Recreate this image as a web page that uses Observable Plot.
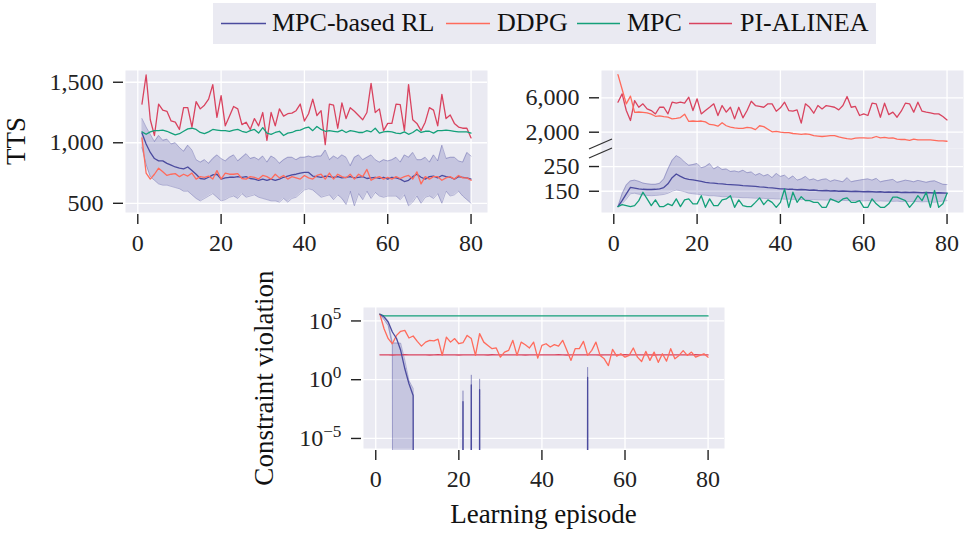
<!DOCTYPE html>
<html><head><meta charset="utf-8">
<script src="https://cdn.jsdelivr.net/npm/d3@7"></script>
<script src="https://cdn.jsdelivr.net/npm/@observablehq/plot@0.6"></script>
<style>
html,body{margin:0;padding:0;background:#fff;}
#root{position:relative;width:968px;height:535px;overflow:hidden;font-family:"Liberation Serif","Times New Roman",serif;}
.pane{position:absolute;}
.pane svg{overflow:visible;display:block;}
.pane [aria-label$="tick"] path, .pane .tick line{stroke-width:1.4px;}
#overlay{position:absolute;left:0;top:0;pointer-events:none;}
</style></head><body><div id="root"></div>
<script>
// ---------------- data ----------------
const episodes = d3.range(1, 81);
const xTicks = [0, 20, 40, 60, 80];
const seriesNames = ["MPC-based RL", "DDPG", "MPC", "PI-ALINEA"];

// Panel 1: TTS
const ttsTicks = [500, 1000, 1500];
const ttsRlMean = [1080,990,920,870,850,850,830,815,800,790, 785,800,770,740,705,700,715,735,740,700, 710,715,715,720,715,720,705,700,690,700, 690,700,690,700,715,725,735,740,750,755, 755,725,720,715,725,720,715,720,710,715, 720,710,715,720,705,710,715,705,715,700, 715,710,700,680,690,720,740,715,700,720, 725,710,730,720,715,700,720,715,710,700];
const ttsRlHigh = [1200,1130,1070,1010,1060,1020,1030,990,1000,960, 930,980,940,860,840,860,830,870,900,870, 850,880,900,850,880,910,870,880,860,890, 840,890,870,830,860,880,880,860,880,880, 890,880,890,890,940,860,890,870,900,880, 810,880,900,860,880,900,860,840,860,850, 860,880,840,900,880,920,860,860,880,840, 900,850,980,870,880,880,850,840,920,890];
const ttsRlLow = [960,820,720,690,660,650,650,640,630,620, 600,600,570,540,520,540,560,580,550,520, 530,550,560,540,580,550,560,570,550,540, 530,520,520,510,540,510,540,550,580,610, 620,610,580,550,560,570,530,570,540,490, 600,480,580,530,600,540,590,560,550,560, 560,560,530,570,480,510,560,500,550,560, 540,580,500,600,560,570,600,560,530,500];
const ttsDdpg = [1040,750,700,740,790,760,730,740,745,720, 740,725,750,700,720,715,725,700,770,700, 750,740,740,745,705,700,720,715,700,730, 720,700,740,710,730,700,720,710,700,730, 710,700,730,740,700,750,700,740,720,710, 740,700,740,720,780,690,710,720,700,715, 700,720,705,720,730,700,760,660,720,700, 720,720,690,710,720,700,730,710,710,690];
const ttsMpc = [1090,1070,1090,1100,1100,1105,1095,1080,1065,1075, 1095,1115,1120,1110,1085,1075,1090,1110,1105,1100, 1100,1095,1105,1110,1095,1085,1100,1110,1080,1125, 1080,1070,1085,1095,1060,1080,1085,1100,1105,1120, 1130,1100,1135,1110,1095,1100,1095,1090,1105,1085, 1100,1095,1085,1085,1100,1090,1120,1080,1090,1095, 1090,1080,1075,1090,1070,1085,1110,1085,1095,1095, 1080,1100,1100,1105,1100,1095,1090,1090,1090,1080];
const ttsPi = [1320,1560,1190,1060,1320,1270,1260,1180,1170,1110, 1290,1290,1130,1340,1280,1310,1360,1480,1210,1390, 1140,1220,1300,1280,1150,1170,1110,1200,1140,1250, 1020,1250,1140,1280,1220,1240,1245,1265,1320,1180, 1240,1360,1225,1265,985,1320,1310,1120,1330,1200, 1290,1260,1225,1190,1250,1490,1250,1280,1100,1160, 1160,1320,1315,1100,1480,1190,1160,1100,1170,1290, 1270,1140,1400,1200,1230,1160,1130,1120,1120,1040];

// Panel 2: TTS with broken axis (upper: DDPG, PI-ALINEA; lower: MPC-based RL, MPC)
const tts2UpperTicks = [2000, 6000];
const tts2LowerTicks = [150, 250];
const tts2Ddpg = [8700,7000,5300,6200,4300,4350,4300,4250,4100,3850, 3900,3800,3750,3550,3600,3700,4100,3250,3300,3250, 3300,3200,2900,2850,2700,3100,2750,2600,2500,2450, 2450,2550,2500,2300,2750,2650,2350,2050,2100,2000, 1950,1950,1850,1800,1750,1800,1750,1600,1550,1500, 1550,1600,1600,1450,1350,1250,1200,1300,1350,1350, 1300,1350,1500,1350,1400,1300,1350,1200,1150,1150, 1050,1200,1100,1100,1100,1100,1050,1000,1000,950];
const tts2Pi = [5490,6460,4520,3360,5680,4900,5300,4710,4520,4130, 4900,4900,4130,5490,5370,5490,5370,6070,4520,5880, 4130,4520,4900,5300,3940,5100,4330,4900,3550,4900, 3670,4520,5600,5100,5000,4900,5300,5300,4440,4830, 5490,4520,4440,4600,3050,5300,4900,4210,5100,4710, 5100,5000,4900,4600,5100,6150,4900,5000,3940,4130, 3940,5370,5300,3740,5370,4050,4330,3740,4440,5370, 5300,4330,5490,4440,4330,4250,4130,4130,3820,3430];
const tts2Mpc = [88,96,92,88,92,112,146,119,92,115, 88,88,99,92,119,88,115,119,99,99, 132,85,119,92,92,115,119,132,85,115, 92,88,88,105,123,96,115,105,85,105, 159,85,146,105,128,112,112,105,105,85, 85,119,112,105,119,123,105,105,112,85, 85,119,99,85,85,99,126,126,119,112, 85,105,132,112,146,85,153,85,99,142];
const tts2RlMean = [88,112,139,166,163,160,158,157,157,158, 160,165,180,205,220,210,202,198,196,193, 190,186,184,183,181,180,178,177,176,175, 173,172,171,170,168,167,165,164,162,160, 160,158,158,156,157,156,154,155,153,152, 153,151,152,150,151,150,149,150,149,148, 149,148,147,148,146,147,146,147,145,146, 145,146,145,144,145,144,143,144,143,142];
const tts2RlHigh = [88,140,175,192,195,190,183,180,178,178, 182,200,240,275,294,285,268,255,258,262, 245,250,262,240,250,238,240,230,232,228, 235,225,228,215,222,212,218,205,222,210, 215,200,212,195,200,210,196,200,192,198, 200,190,196,192,188,205,188,192,195,198, 200,195,202,188,192,195,198,186,190,195, 192,188,194,190,186,190,192,185,178,177];
const tts2RlLow = [88,100,118,140,142,138,135,133,132,133, 135,137,142,150,155,152,148,142,140,138, 136,134,132,132,130,128,128,126,126,125, 124,124,123,122,122,121,120,120,119,119, 118,118,117,118,116,117,115,116,115,115, 114,115,113,114,113,112,113,112,112,111, 112,111,110,111,110,110,109,110,108,109, 108,109,108,107,108,107,106,108,110,112];

// Panel 3: constraint violation (log scale)
const cvTicks = [1e-5, 1, 1e5];
const cvMpc = [370000,275000,270000,268000,272000,270000,268000,270000,271000,269000, 270000,268000,272000,270000,266000,270000,272000,269000,270000,268000, 270000,271000,269000,270000,268000,272000,270000,266000,270000,271000, 269000,270000,268000,270000,272000,270000,267000,270000,271000,269000, 270000,268000,270000,272000,269000,270000,266000,270000,271000,269000, 270000,268000,271000,270000,269000,270000,272000,268000,270000,269000, 270000,271000,268000,270000,269000,270000,272000,270000,268000,270000, 269000,270000,271000,268000,270000,269000,270000,271000,270000,270000];
const cvPi = [132,128,130,127,131,129,133,128,130,132, 129,131,127,130,134,128,130,131,129,127, 130,132,128,131,129,130,127,133,129,131, 130,128,132,129,131,127,130,132,128,130, 131,129,128,133,130,127,131,129,132,130, 128,131,130,127,132,129,131,128,130,133, 129,130,132,128,131,129,127,131,130,128, 132,129,130,131,128,130,133,129,131,128];
const cvDdpg = [370000,21900,3090,1150,5890,13200,15800,3550,5250,1820, 724,1580,2240,2000,2820,117,4270,1580,3160,1150, 1410,5890,3160,117,8320,1580,832,437,501,83, 224,316,2240,117,1580,955,501,1580,69,832, 1150,603,955,724,2240,316,44,437,437,1820, 117,316,1580,117,60,16,380,102,162,83, 117,501,83,35,257,44,224,30,162,38, 437,60,117,300,117,224,83,117,162,83];
const cvRlMean = [371000,220000,80000,11500,3200,316,8.5,0.45,0.045,0, 0,0,0,0,0,0,0,0,0,0, 0.0135,0,0.36,0,0.145,0,0,0,0,0, 0,0,0,0,0,0,0,0,0,0, 0,0,0,0,0,0,0,0,0,0, 1.55,0,0,0,0,0,0,0,0,0, 0,0,0,0,0,0,0,0,0,0, 0,0,0,0,0,0,0,0,0,0];
const cvRlHigh = [371000,250000,100000,1320,1320,1260,44,0.85,0.18,0, 0,0,0,0,0,0,0,0,0,0, 0.117,0,2.57,0,1.17,0,0,0,0,0, 0,0,0,0,0,0,0,0,0,0, 0,0,0,0,0,0,0,0,0,0, 11.7,0,0,0,0,0,0,0,0,0, 0,0,0,0,0,0,0,0,0,0, 0,0,0,0,0,0,0,0,0,0];
const cvRlLow = [371000,126000,40000,800,0,0,0,0,0,0, 0,0,0,0,0,0,0,0,0,0, 0,0,0,0,0,0,0,0,0,0, 0,0,0,0,0,0,0,0,0,0, 0,0,0,0,0,0,0,0,0,0, 0,0,0,0,0,0,0,0,0,0, 0,0,0,0,0,0,0,0,0,0, 0,0,0,0,0,0,0,0,0,0];

// ---------------- style ----------------
const COLORS = {rl: "#4b4b9e", ddpg: "#ff6b5c", mpc: "#14a07a", pi: "#d9435f"};
const BG = "#eaeaf2";
const FONT = '"Liberation Serif","Times New Roman",serif';
const X_DOMAIN = [-2.95, 83.95];
const LW = 1.3;

const root = document.getElementById("root");
const series = (vals) => vals.map((v, i) => ({ep: episodes[i], v}));
const band = (lo, mid, hi) => episodes.map((ep, i) => ({ep, lo: lo[i], v: mid[i], hi: hi[i]}));
const logFloor = (v) => (v > 0 ? v : 1e-300); // nonpositive values clipped like matplotlib

function mount(svg, left, top, w, h) {
  const d = document.createElement("div");
  d.className = "pane";
  Object.assign(d.style, {left: left + "px", top: top + "px", width: w + "px", height: h + "px"});
  d.appendChild(svg);
  root.appendChild(d);
}
const common = (o) => Object.assign({
  width: 490,
  style: {background: "transparent", fontFamily: FONT, fontSize: "24px", color: "#222", overflow: "visible"}
}, o);
const xOpt = (visible) => ({domain: X_DOMAIN, insetLeft: 2, ticks: xTicks, tickSize: 10, tickPadding: 9, label: null, axis: visible ? "bottom" : null});
const bgMarks = (yTicks, insetBottom) => [
  Plot.frame({fill: BG, stroke: "none", insetLeft: 2, insetBottom}),
  Plot.ruleX(xTicks, {stroke: "white", strokeWidth: 1.3}),
  Plot.ruleY(yTicks, {stroke: "white", strokeWidth: 1.3})
];
const bandMarks = (rows, yf, clip) => [
  Plot.areaY(rows, {x: "ep", y1: (d) => yf(d.lo), y2: (d) => yf(d.hi), fill: COLORS.rl, fillOpacity: 0.22, clip}),
  Plot.line(rows, {x: "ep", y: (d) => yf(d.hi), stroke: COLORS.rl, strokeOpacity: 0.35, strokeWidth: 1, clip}),
  Plot.line(rows, {x: "ep", y: (d) => yf(d.lo), stroke: COLORS.rl, strokeOpacity: 0.35, strokeWidth: 1, clip})
];
const ln = (rows, color, yf, clip) => Plot.line(rows, {x: "ep", y: yf ? (d) => yf(d.v) : "v", stroke: color, strokeWidth: LW, clip});
const id = (v) => v;

// ---------------- panel 1 ----------------
const rl1 = band(ttsRlLow, ttsRlMean, ttsRlHigh);
mount(Plot.plot(common({
  height: 200, marginLeft: 123, marginRight: 3, marginTop: 10, marginBottom: 46,
  x: xOpt(true),
  y: {domain: [424, 1597], insetBottom: 2, ticks: ttsTicks, tickFormat: d3.format(","), tickSize: 10, tickPadding: 10, label: null},
  marks: [
    ...bgMarks(ttsTicks, 2),
    ...bandMarks(rl1, id, false),
    ln(series(ttsPi), COLORS.pi),
    ln(series(ttsMpc), COLORS.mpc),
    ln(rl1, COLORS.rl),
    ln(series(ttsDdpg), COLORS.ddpg)
  ]
})), 0, 60, 490, 200);

// ---------------- panel 2 (broken axis) ----------------
mount(Plot.plot(common({
  height: 88, marginLeft: 119, marginRight: 7, marginTop: 10, marginBottom: 0,
  x: xOpt(false),
  y: {domain: [105, 9174], ticks: tts2UpperTicks, tickFormat: d3.format(","), tickSize: 10, tickPadding: 10, label: null},
  marks: [
    ...bgMarks(tts2UpperTicks, 0),
    ln(series(tts2Pi), COLORS.pi, id, true),
    ln(series(tts2Ddpg), COLORS.ddpg, id, true)
  ]
})), 480, 60, 490, 88);

const rl2 = band(tts2RlLow, tts2RlMean, tts2RlHigh);
mount(Plot.plot(common({
  height: 112, marginLeft: 119, marginRight: 7, marginTop: 0, marginBottom: 46,
  x: xOpt(true),
  y: {domain: [64, 323], insetBottom: 2, ticks: tts2LowerTicks, tickSize: 10, tickPadding: 10, label: null},
  marks: [
    ...bgMarks(tts2LowerTicks, 2),
    ...bandMarks(rl2, id, true),
    ln(rl2, COLORS.rl, id, true),
    ln(series(tts2Mpc), COLORS.mpc, id, true)
  ]
})), 480, 148, 490, 112);

// ---------------- panel 3 ----------------
const rl3 = band(cvRlLow, cvRlMean, cvRlHigh);
const p3 = Plot.plot(common({
  height: 199, marginLeft: 121, marginRight: 6, marginTop: 10, marginBottom: 46,
  x: xOpt(true),
  y: {type: "log", domain: [Math.pow(10, -5.855), Math.pow(10, 6.145)], insetBottom: 2, ticks: cvTicks,
      tickFormat: (d) => "10^" + Math.round(Math.log10(d)), tickSize: 10, tickPadding: 10, label: null},
  marks: [
    ...bgMarks(cvTicks, 2),
    ...bandMarks(rl3, logFloor, true),
    ln(series(cvMpc), COLORS.mpc, logFloor, true),
    ln(series(cvPi), COLORS.pi, logFloor, true),
    ln(series(cvDdpg), COLORS.ddpg, logFloor, true),
    ln(rl3, COLORS.rl, logFloor, true)
  ]
}));
p3.querySelectorAll("text").forEach((t) => {
  const m = /^10\^(-?\d+)$/.exec(t.textContent.trim());
  if (!m) return;
  while (t.firstChild) t.removeChild(t.firstChild);
  t.appendChild(document.createTextNode("10"));
  const s = document.createElementNS("http://www.w3.org/2000/svg", "tspan");
  s.setAttribute("dy", "-0.55em");
  s.setAttribute("font-size", "0.72em");
  s.textContent = m[1].replace("-", "\u2212");
  t.appendChild(s);
});
mount(p3, 240, 297, 490, 199);

// ---------------- overlay: legend, axis titles, break marks ----------------
const NS = "http://www.w3.org/2000/svg";
const ov = document.createElementNS(NS, "svg");
ov.setAttribute("id", "overlay");
ov.setAttribute("width", 968);
ov.setAttribute("height", 535);
ov.style.fontFamily = FONT;
function el(tag, attrs, text) {
  const e = document.createElementNS(NS, tag);
  for (const k in attrs) e.setAttribute(k, attrs[k]);
  if (text != null) e.textContent = text;
  ov.appendChild(e);
  return e;
}
// legend
el("rect", {x: 213, y: 3, width: 663, height: 41, fill: BG});
const legendColors = [COLORS.rl, COLORS.ddpg, COLORS.mpc, COLORS.pi];
const legendLayout = [[221, 266, 272], [446, 490, 497], [577, 620, 627], [689, 732, 740]];
seriesNames.forEach((name, i) => {
  const [a, b, tx] = legendLayout[i];
  el("line", {x1: a, x2: b, y1: 23.5, y2: 23.5, stroke: legendColors[i], "stroke-width": LW});
  el("text", {x: tx, y: 31, "font-size": 26, fill: "#111"}, name);
});
// axis titles
el("text", {transform: "translate(25,141) rotate(-90)", "text-anchor": "middle", "font-size": 27, fill: "#111"}, "TTS");
el("text", {transform: "translate(273,378) rotate(-90)", "text-anchor": "middle", "font-size": 27, fill: "#111"}, "Constraint violation");
el("text", {x: 543.5, y: 523, "text-anchor": "middle", "font-size": 27, fill: "#111"}, "Learning episode");
// broken-axis marks
el("line", {x1: 589, y1: 149, x2: 612, y2: 139, stroke: "#333", "stroke-width": 1.3});
el("line", {x1: 589, y1: 158, x2: 612, y2: 148, stroke: "#333", "stroke-width": 1.3});
root.appendChild(ov);
</script>
</body></html>
